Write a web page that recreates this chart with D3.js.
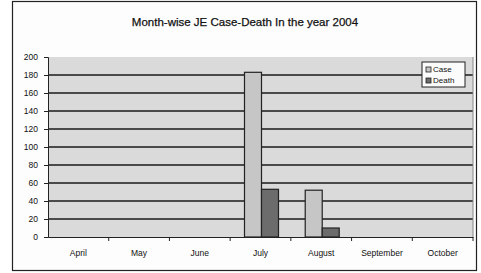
<!DOCTYPE html>
<html>
<head>
<meta charset="utf-8">
<script src="https://cdn.jsdelivr.net/npm/d3@7"></script>
<style>
body { margin: 0; background: #fff; }
text { font-family: "Liberation Sans", Arial, sans-serif; fill: #111; }
</style>
</head>
<body>
<div id="chart"></div>
<script>
const months = ["April", "May", "June", "July", "August", "September", "October"];
const seriesNames = ["Case", "Death"];
const caseValues = [0, 0, 0, 183, 52, 0, 0];
const deathValues = [0, 0, 0, 53, 10, 0, 0];
const yTicks = [0, 20, 40, 60, 80, 100, 120, 140, 160, 180, 200];
const colors = ["#c6c6c6", "#6c6c6c"];

const W = 481, H = 273;
const margin = {top: 57, right: 8, bottom: 36, left: 48};
const iw = 473 - margin.left, ih = 237 - margin.top;

const svg = d3.select("#chart").append("svg")
  .attr("width", W).attr("height", H);

// outer frame
svg.append("rect")
  .attr("x", 12.5).attr("y", 1.5).attr("width", 464).attr("height", 269)
  .attr("fill", "#fdfdfd").attr("stroke", "#222").attr("stroke-width", 1.2);

svg.append("text")
  .attr("x", 245).attr("y", 26)
  .attr("text-anchor", "middle")
  .style("font-size", "11.5px")
  .style("stroke", "#111").style("stroke-width", 0.25)
  .text("Month-wise JE Case-Death In the year 2004");

const g = svg.append("g").attr("transform", `translate(${margin.left},${margin.top})`);

const x = d3.scaleBand().domain(months).range([0, iw]);
const y = d3.scaleLinear().domain([0, 200]).range([ih, 0]);
const xs = d3.scaleBand().domain(seriesNames).range([x.bandwidth() / 2 - 16, x.bandwidth() / 2 + 18]);

// plot background
g.append("rect").attr("width", iw).attr("height", ih)
  .attr("fill", "#dadada");

// gridlines
g.selectAll("line.grid").data(yTicks.filter(d => d > 0 && d < 200))
  .enter().append("line")
  .attr("class", "grid")
  .attr("x1", 0).attr("x2", iw)
  .attr("y1", d => y(d)).attr("y2", d => y(d))
  .attr("stroke", "#1a1a1a").attr("stroke-width", 1.3);

// right edge of plot area
g.append("line").attr("x1", iw).attr("x2", iw).attr("y1", 0).attr("y2", ih)
  .attr("stroke", "#888").attr("stroke-width", 1);

const data = months.map((m, i) => ({month: m, values: [caseValues[i], deathValues[i]]}));

const groups = g.selectAll("g.month").data(data).enter().append("g")
  .attr("transform", d => `translate(${x(d.month)},0)`);

groups.selectAll("rect").data(d => d.values.map((v, j) => ({name: seriesNames[j], v, j})))
  .enter().append("rect")
  .filter(d => d.v > 0)
  .attr("x", d => xs(d.name)).attr("width", xs.bandwidth())
  .attr("y", d => y(d.v)).attr("height", d => y(0) - y(d.v))
  .attr("fill", d => colors[d.j])
  .attr("stroke", "#222").attr("stroke-width", 1.2);

// y axis
const yAxis = g.append("g")
  .call(d3.axisLeft(y).tickValues(yTicks).tickSize(4).tickPadding(6));
yAxis.select(".domain").attr("stroke", "#222");
yAxis.selectAll(".tick line").attr("stroke", "#222");
yAxis.selectAll("text").style("font-size", "8.5px").attr("fill", "#111");

// x axis
const xAxis = g.append("g").attr("transform", `translate(0,${ih})`)
  .call(d3.axisBottom(x).tickSize(0).tickPadding(13));
xAxis.select(".domain").attr("stroke", "#222").attr("stroke-width", 1.2);
xAxis.selectAll("text").style("font-size", "8.5px").attr("fill", "#111");
// category separators
g.selectAll("line.sep").data(months.slice(1).concat(["end"]))
  .enter().append("line")
  .attr("x1", (d, i) => x.step() * (i + 1)).attr("x2", (d, i) => x.step() * (i + 1))
  .attr("y1", ih).attr("y2", ih + 4)
  .attr("stroke", "#222");

// legend
const lg = svg.append("g").attr("transform", "translate(422,62)");
lg.append("rect").attr("width", 43).attr("height", 25)
  .attr("fill", "#fbfbfb").attr("stroke", "#222").attr("stroke-width", 1);
seriesNames.forEach((s, i) => {
  lg.append("rect").attr("x", 4).attr("y", 5 + i * 11).attr("width", 5).attr("height", 5)
    .attr("fill", colors[i]).attr("stroke", "#222").attr("stroke-width", 0.8);
  lg.append("text").attr("x", 11).attr("y", 10 + i * 11)
    .style("font-size", "8px").text(s);
});
</script>
</body>
</html>
